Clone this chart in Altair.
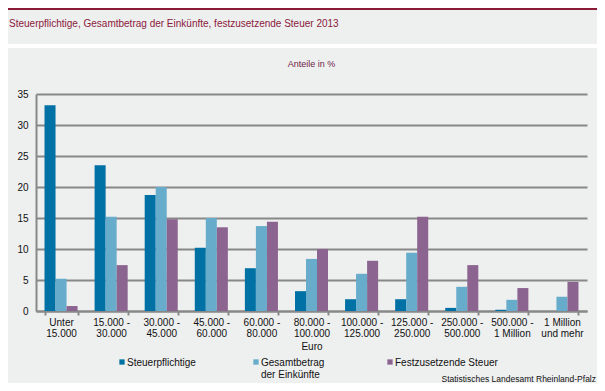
import altair as alt
import pandas as pd

# ---- data ----
categories = ["Unter|15.000", "15.000 -|30.000", "30.000 -|45.000", "45.000 -|60.000",
              "60.000 -|80.000", "80.000 -|100.000", "100.000 -|125.000", "125.000 -|250.000",
              "250.000 -|500.000", "500.000 -|1 Million", "1 Million|und mehr"]
series = ["Steuerpflichtige", "Gesamtbetrag|der Einkünfte", "Festzusetzende Steuer"]
steuerpflichtige = [33.2, 23.5, 18.7, 10.2, 6.9, 3.2, 1.9, 1.9, 0.5, 0.2, 0.02]
gesamtbetrag = [5.2, 15.2, 20.0, 15.0, 13.7, 8.4, 6.0, 9.4, 3.9, 1.8, 2.3]
festzusetzende = [0.8, 7.4, 14.8, 13.5, 14.4, 10.0, 8.1, 15.2, 7.4, 3.7, 4.7]
y_ticks = [0, 5, 10, 15, 20, 25, 30, 35]

title_text = ["Steuerpflichtige, Gesamtbetrag der Einkünfte, festzusetzende Steuer 2013"]
subtitle_text = ["Anteile in %"]
source_text = ["Statistisches Landesamt Rheinland-Pfalz"]
x_title = "Euro"

colors = ["#0071A4", "#67ACCB", "#8C6490"]
FONT = "Liberation Sans"
GRID = "#888888"
MAROON = "#8B1A3C"

rows = []
for vals, s in zip([steuerpflichtige, gesamtbetrag, festzusetzende], series):
    for c, v in zip(categories, vals):
        rows.append({"Kategorie": c, "Reihe": s, "Wert": v})
df = pd.DataFrame(rows)

W, H = 551, 217
PL, PT, PR, PB = 28, 86, 10, 72

color_scale = alt.Scale(domain=series, range=colors)

bars = alt.Chart(df).mark_bar().encode(
    x=alt.X("Kategorie:N", sort=categories,
            scale=alt.Scale(paddingInner=0.34, paddingOuter=0.17),
            axis=alt.Axis(title=x_title, labelExpr="split(datum.label, '|')", labelAngle=0,
                          labelFontSize=10, labelFont=FONT, labelColor="#111111",
                          labelLineHeight=11, labelPadding=2, labelBaseline="top",
                          tickBand="extent", tickSize=4, tickColor=GRID, tickWidth=2,
                          domainColor=GRID, domainWidth=2, grid=False,
                          titleFont=FONT, titleFontSize=10, titleFontWeight="normal",
                          titleColor="#111111", titleY=30, titleBaseline="top")),
    xOffset=alt.XOffset("Reihe:N", sort=series, scale=alt.Scale(paddingInner=0, paddingOuter=0)),
    y=alt.Y("Wert:Q", scale=alt.Scale(domain=[0, 35], nice=False),
            axis=alt.Axis(title=None, values=y_ticks, labelFontSize=10, labelFont=FONT,
                          labelColor="#111111", labelPadding=8, ticks=False,
                          domainColor=GRID, domainWidth=2,
                          grid=True, gridColor=GRID, gridWidth=2)),
    color=alt.Color("Reihe:N", sort=series, scale=color_scale, legend=None)
)

# manual legend (symbols + labels), one slot per series
legend_df = pd.DataFrame({"Reihe": series, "Slot": list(range(len(series)))})
legend_x = alt.X("Slot:Q", scale=alt.Scale(domain=[0, 2], range=[86, 354]), axis=None)
leg_sym = alt.Chart(legend_df).mark_square(size=28, opacity=1, filled=True).encode(
    x=legend_x, y=alt.value(268),
    color=alt.Color("Reihe:N", sort=series, scale=color_scale, legend=None))
leg_txt = alt.Chart(legend_df).mark_text(
    align="left", baseline="alphabetic", dx=5, lineBreak="|", lineHeight=12,
    font=FONT, fontSize=10, color="#111111").encode(
    x=legend_x, y=alt.value(271.5), text="Reihe:N")
legend = alt.layer(leg_sym, leg_txt)

one = pd.DataFrame({"a": [0]})

top_bar = alt.Chart(one).mark_rect(color="#8B1B35").encode(
    x=alt.value(-PL), x2=alt.value(W + PR), y=alt.value(-PT), y2=alt.value(-PT + 2))
white_strip = alt.Chart(one).mark_rect(color="#FFFFFF").encode(
    x=alt.value(-PL), x2=alt.value(W + PR), y=alt.value(-50), y2=alt.value(-46))

title = alt.Chart(pd.DataFrame({"t": title_text})).mark_text(
    align="left", baseline="middle", font=FONT, fontSize=10, color=MAROON).encode(
    text="t:N", x=alt.value(-27), y=alt.value(-70))
subtitle = alt.Chart(pd.DataFrame({"t": subtitle_text})).mark_text(
    align="center", baseline="middle", font=FONT, fontSize=9, color="#6E2446").encode(
    text="t:N", x=alt.value(W / 2), y=alt.value(-30))
source = alt.Chart(pd.DataFrame({"t": source_text})).mark_text(
    align="right", baseline="middle", font=FONT, fontSize=8.5, color="#111111").encode(
    text="t:N", x=alt.value(W + PR - 1), y=alt.value(285))

chart = alt.layer(top_bar, white_strip, bars, legend, title, subtitle, source).resolve_scale(
    x="independent"
).properties(
    width=W, height=H,
    padding={"left": PL, "top": PT, "right": PR, "bottom": PB},
    autosize=alt.AutoSizeParams(type="none"),
    background="#EEEFEF",
).configure_view(stroke=None)

chart.save("out.html", embed_options={"renderer": "svg", "actions": False})
